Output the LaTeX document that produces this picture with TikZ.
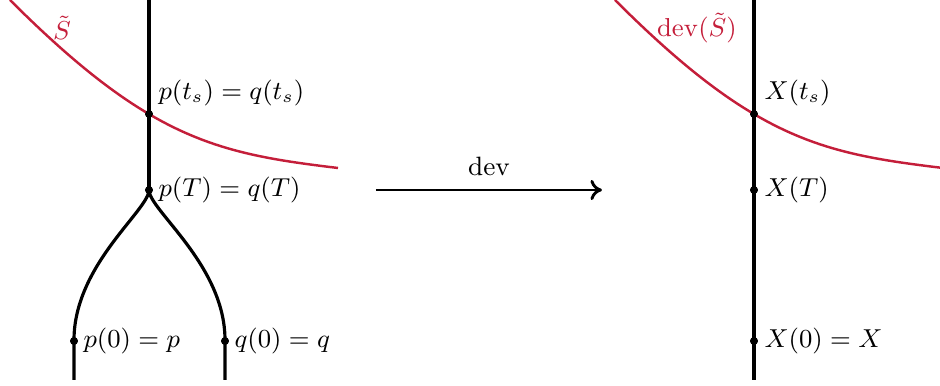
\documentclass[tikz,border=0pt]{standalone}
\usetikzlibrary{arrows.meta}
\definecolor{surfred}{RGB}{196,30,58}
\begin{document}
\begin{tikzpicture}[x=0.3467pt,y=-0.3467pt,
  font=\fontsize{9.2pt}{11pt}\selectfont,
  pathline/.style={line width=1.1pt},
  surf/.style={line width=0.85pt,draw=surfred},
  pt/.style={circle,fill=black,inner sep=0pt,minimum size=2.7pt},
  lab/.style={anchor=west,inner sep=0pt},
  redlab/.style={text=surfred,inner sep=0pt}]
\useasboundingbox (0,0) rectangle (940,386);
% left picture
\coordinate (Ltop) at (149,0);
\node[pt] (Lts) at (149,114) {};
\node[pt] (LT) at (149,190) {};
\node[pt] (P0) at (74,341) {};
\node[pt] (Q0) at (225,341) {};
\coordinate (Pend) at (74,380);
\coordinate (Qend) at (225,380);
\coordinate (LSa) at (10,0);
\coordinate (LSb) at (338,168);
\draw[surf] (LSa) .. controls (150,140) and (218,153.6) .. (LSb);
\draw[pathline] (Ltop) -- (LT.center);
\draw[pathline] (LT.center) .. controls (149,210) and (74,265) .. (74,340) -- (Pend);
\draw[pathline] (LT.center) .. controls (149,210) and (225,265) .. (225,340) -- (Qend);
\node[pt] at (Lts) {};
\node[pt] at (LT) {};
\node[pt] at (P0) {};
\node[pt] at (Q0) {};
\node[redlab] (Slab) at (62,28) {$\tilde S$};
\node[lab] (lts) at (158,93) {$p(t_s)=q(t_s)$};
\node[lab] (lT) at (158,190) {$p(T)=q(T)$};
\node[lab] (lp0) at (83,341) {$p(0)=p$};
\node[lab] (lq0) at (234,341) {$q(0)=q$};
% arrow
\coordinate (Aa) at (376,190);
\coordinate (Ab) at (602,190);
\draw[line width=1pt,-{To[length=4pt,width=7pt]}] (Aa) -- node[above=4.5pt,inner sep=0pt] (devlab) {dev} (Ab);
% right picture
\coordinate (Rtop) at (754,0);
\coordinate (Rbot) at (754,380);
\node[pt] (Rts) at (754,114) {};
\node[pt] (RT) at (754,190) {};
\node[pt] (R0) at (754,341) {};
\coordinate (RSa) at (615,0);
\coordinate (RSb) at (943,168);
\draw[surf] (RSa) .. controls (755,140) and (823,153.6) .. (RSb);
\draw[pathline] (Rtop) -- (Rbot);
\node[pt] at (Rts) {};
\node[pt] at (RT) {};
\node[pt] at (R0) {};
\node[redlab] (devS) at (697,28) {$\mathrm{dev}(\tilde S)$};
\node[lab] (rts) at (764,93) {$X(t_s)$};
\node[lab] (rT) at (764,190) {$X(T)$};
\node[lab] (r0) at (764,341) {$X(0)=X$};
\end{tikzpicture}
\end{document}
